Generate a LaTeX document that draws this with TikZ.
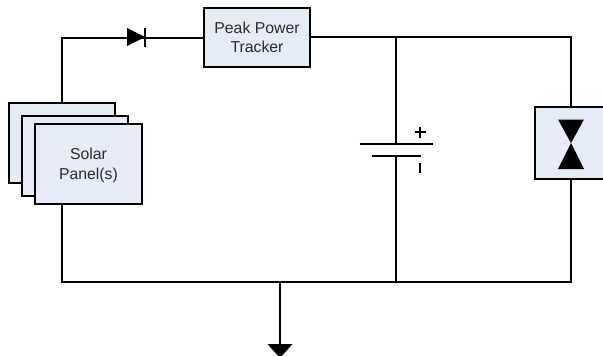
\documentclass[tikz,border=0pt]{standalone}
\usepackage{fontspec}
\setmainfont{Liberation Sans}
\usetikzlibrary{positioning,arrows.meta}
\definecolor{panelblue}{HTML}{E6ECF7}
\definecolor{labelgray}{HTML}{2B2B2B}
\tikzset{
	box/.style={draw, line width=2pt, fill=panelblue, text=labelgray, align=center, inner sep=0pt, font=\fontsize{15.8}{19}\selectfont},
	wire/.style={line width=2pt},
	plate/.style={line width=2pt},
	blob/.style={fill=black, draw=none}
}
\begin{document}
\begin{tikzpicture}[x=1pt,y=-1pt]
	\useasboundingbox (0,0) rectangle (603,356);
	\node (back) [box, minimum width=106pt, minimum height=80pt] at (62,143) {};
	\node (middle) [box, minimum width=106pt, minimum height=80pt, below right=-69pt and -95pt of back] {};
	\node (front) [box, minimum width=107pt, minimum height=80pt, below right=-74pt and -95pt of middle] {\rule{0pt}{15pt}Solar\\[1pt]Panel(s)};
	\node (tracker) [box, minimum width=106pt, minimum height=59pt] at (257,37.5) {Peak Power\\Tracker};
	\node (load) [box, minimum width=72pt, minimum height=72pt] at (571,143) {};
	\coordinate (diode) at (145,37);
	\coordinate (plus) at (396,143.5);
	\coordinate (minus) at (396,156);
	\coordinate (busleft) at (62,282);
	\coordinate (busmid) at (280,282);
	\coordinate (busbat) at (396,282);
	\coordinate (busright) at (571,282);
	\coordinate (sink) at (280,345);
	\coordinate (topbat) at (396,37);
	% wires
	\draw[wire] (back.north) |- (tracker.west);
	\draw[wire] (tracker.east |- topbat) -| (load.north);
	\draw[wire] (topbat) -- (plus);
	\draw[wire] (minus) -- (busbat);
	\draw[wire] (load.south) |- (busleft) -- (busleft |- front.south);
	\draw[wire] (busmid) -- (sink);
	% diode
	\fill[blob] (diode) -- ++(-18,-9) -- ++(0,18) -- cycle;
	\draw[line width=1.6pt] (diode) ++(0,-9.5) -- ++(0,19);
	% battery
	\draw[plate] (plus) ++(-36.5,0) -- ++(73,0);
	\draw[plate] (minus) ++(-24.5,0) -- ++(49,0);
	\draw[wire] (420,126.5) -- ++(0,11) (414.5,132) -- ++(11,0);
	\draw[wire] (420,163) -- ++(0,10);
	% load
	\fill[blob] (load.center) -- (558,119.5) -- (584,119.5) -- cycle;
	\fill[blob] (load.center) -- (558,169) -- (584,169) -- cycle;
	% arrow
	\fill[blob] (sink) ++(-12.5,-1) -- ++(25,0) -- (280,358) -- cycle;
\end{tikzpicture}
\end{document}
